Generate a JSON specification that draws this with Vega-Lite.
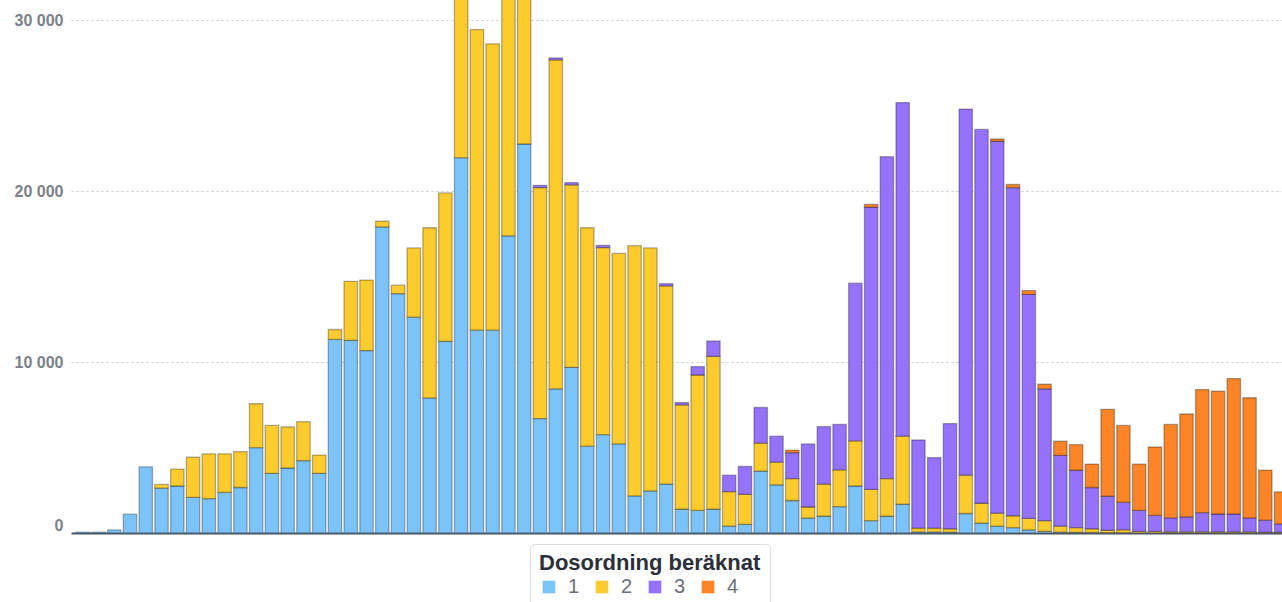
{
  "$schema": "https://vega.github.io/schema/vega-lite/v6.json",
  "width": 1211,
  "height": 533,
  "autosize": {"type": "none"},
  "padding": {"left": 71, "top": 0, "right": 0, "bottom": 69},
  "background": "white",
  "config": {"view": {"stroke": null}},
  "data": {
    "values": [
      {"n":1,"1":50,"2":0,"3":0,"4":0},
      {"n":2,"1":50,"2":0,"3":0,"4":0},
      {"n":3,"1":180,"2":0,"3":0,"4":0},
      {"n":4,"1":1100,"2":0,"3":0,"4":0},
      {"n":5,"1":3870,"2":0,"3":0,"4":0},
      {"n":6,"1":2620,"2":220,"3":0,"4":0},
      {"n":7,"1":2750,"2":990,"3":0,"4":0},
      {"n":8,"1":2080,"2":2350,"3":0,"4":0},
      {"n":9,"1":2010,"2":2620,"3":0,"4":0},
      {"n":10,"1":2370,"2":2260,"3":0,"4":0},
      {"n":11,"1":2660,"2":2100,"3":0,"4":0},
      {"n":12,"1":4990,"2":2570,"3":0,"4":0},
      {"n":13,"1":3490,"2":2800,"3":0,"4":0},
      {"n":14,"1":3800,"2":2400,"3":0,"4":0},
      {"n":15,"1":4230,"2":2280,"3":0,"4":0},
      {"n":16,"1":3490,"2":1070,"3":0,"4":0},
      {"n":17,"1":11320,"2":580,"3":0,"4":0},
      {"n":18,"1":11270,"2":3450,"3":0,"4":0},
      {"n":19,"1":10670,"2":4120,"3":0,"4":0},
      {"n":20,"1":17900,"2":330,"3":0,"4":0},
      {"n":21,"1":14000,"2":490,"3":0,"4":0},
      {"n":22,"1":12620,"2":4050,"3":0,"4":0},
      {"n":23,"1":7900,"2":9950,"3":0,"4":0},
      {"n":24,"1":11210,"2":8680,"3":0,"4":0},
      {"n":25,"1":21950,"2":10500,"3":0,"4":0},
      {"n":26,"1":11860,"2":17580,"3":0,"4":0},
      {"n":27,"1":11860,"2":16750,"3":0,"4":0},
      {"n":28,"1":17380,"2":14600,"3":0,"4":0},
      {"n":29,"1":22750,"2":9050,"3":0,"4":0},
      {"n":30,"1":6690,"2":13510,"3":130,"4":0},
      {"n":31,"1":8430,"2":19240,"3":110,"4":0},
      {"n":32,"1":9690,"2":10670,"3":130,"4":0},
      {"n":33,"1":5080,"2":12770,"3":0,"4":0},
      {"n":34,"1":5750,"2":10940,"3":130,"4":0},
      {"n":35,"1":5210,"2":11140,"3":0,"4":0},
      {"n":36,"1":2170,"2":14630,"3":0,"4":0},
      {"n":37,"1":2460,"2":14210,"3":0,"4":0},
      {"n":38,"1":2860,"2":11590,"3":130,"4":0},
      {"n":39,"1":1390,"2":6100,"3":140,"4":0},
      {"n":40,"1":1320,"2":7920,"3":490,"4":0},
      {"n":41,"1":1390,"2":8940,"3":900,"4":0},
      {"n":42,"1":400,"2":2020,"3":960,"4":0},
      {"n":43,"1":510,"2":1750,"3":1630,"4":0},
      {"n":44,"1":3620,"2":1640,"3":2080,"4":0},
      {"n":45,"1":2820,"2":1320,"3":1520,"4":0},
      {"n":46,"1":1900,"2":1280,"3":1520,"4":150},
      {"n":47,"1":870,"2":650,"3":3690,"4":0},
      {"n":48,"1":980,"2":1880,"3":3360,"4":0},
      {"n":49,"1":1540,"2":2150,"3":2660,"4":0},
      {"n":50,"1":2750,"2":2640,"3":9220,"4":0},
      {"n":51,"1":720,"2":1830,"3":16510,"4":160},
      {"n":52,"1":980,"2":2200,"3":18830,"4":0},
      {"n":53,"1":1680,"2":3980,"3":19510,"4":0},
      {"n":54,"1":60,"2":230,"3":5150,"4":0},
      {"n":55,"1":60,"2":230,"3":4120,"4":0},
      {"n":56,"1":50,"2":200,"3":6150,"4":0},
      {"n":57,"1":1140,"2":2240,"3":21410,"4":0},
      {"n":58,"1":580,"2":1160,"3":21860,"4":0},
      {"n":59,"1":400,"2":760,"3":21750,"4":130},
      {"n":60,"1":310,"2":700,"3":19190,"4":180},
      {"n":61,"1":180,"2":670,"3":13110,"4":220},
      {"n":62,"1":90,"2":630,"3":7710,"4":270},
      {"n":63,"1":50,"2":350,"3":4140,"4":830},
      {"n":64,"1":40,"2":270,"3":3360,"4":1500},
      {"n":65,"1":30,"2":220,"3":2410,"4":1370},
      {"n":66,"1":20,"2":140,"3":1990,"4":5080},
      {"n":67,"1":20,"2":160,"3":1610,"4":4500},
      {"n":68,"1":10,"2":80,"3":1230,"4":2710},
      {"n":69,"1":10,"2":80,"3":940,"4":4000},
      {"n":70,"1":10,"2":60,"3":820,"4":5460},
      {"n":71,"1":10,"2":60,"3":870,"4":6020},
      {"n":72,"1":10,"2":60,"3":1120,"4":7200},
      {"n":73,"1":10,"2":50,"3":1050,"4":7180},
      {"n":74,"1":10,"2":50,"3":1050,"4":7920},
      {"n":75,"1":10,"2":50,"3":820,"4":7030},
      {"n":76,"1":10,"2":40,"3":700,"4":2930},
      {"n":77,"1":10,"2":40,"3":480,"4":1880}
    ]
  },
  "transform": [
    {"fold": ["1", "2", "3", "4"], "as": ["dos", "antal"]},
    {"filter": "datum.antal > 0"}
  ],
  "mark": {"type": "bar", "size": 13.4, "stroke": "#000000", "strokeOpacity": 0.3, "strokeWidth": 1.3, "clip": true},
  "encoding": {
    "x": {
      "field": "n",
      "type": "quantitative",
      "scale": {"domain": [0.5755, 76.74], "nice": false, "zero": false},
      "axis": {"title": null, "labels": false, "ticks": false, "grid": false, "domainColor": "#4b5563", "domainWidth": 2}
    },
    "y": {
      "field": "antal",
      "type": "quantitative",
      "stack": "zero",
      "scale": {"domain": [0, 31170], "nice": false},
      "axis": {
        "title": null,
        "values": [0, 10000, 20000, 30000],
        "labelExpr": "replace(format(datum.value, ','), ',', ' ')",
        "labelFont": "Liberation Sans",
        "labelFontWeight": "bold",
        "labelFontSize": 16,
        "labelColor": "#7c8089",
        "labelPadding": 8,
        "labelBaseline": {"condition": {"test": "datum.value === 0", "value": "bottom"}, "value": "middle"},
        "ticks": false,
        "domain": false,
        "grid": true,
        "gridColor": "#c8c8c8",
        "gridDash": [2, 3],
        "gridWidth": 1
      }
    },
    "color": {
      "field": "dos",
      "type": "nominal",
      "scale": {"domain": ["1", "2", "3", "4"], "range": ["#7cc3fa", "#fecb2f", "#9472fc", "#fd8427"]},
      "legend": {
        "title": "Dosordning beräknat",
        "orient": "none",
        "legendX": 459,
        "legendY": 544,
        "direction": "horizontal",
        "titleFont": "Liberation Sans",
        "titleFontSize": 22,
        "titleFontWeight": "bold",
        "titleColor": "#2b2f3a",
        "titleLimit": 500,
        "titlePadding": 2,
        "labelFont": "Liberation Sans",
        "labelFontSize": 20,
        "labelColor": "#6b6f78",
        "labelOffset": 9,
        "columnPadding": 12,
        "symbolType": "square",
        "symbolSize": 160,
        "symbolStrokeWidth": 0,
        "strokeColor": "#dcdcdc",
        "fillColor": "#ffffff",
        "cornerRadius": 4,
        "padding": 9
      }
    },
    "order": {"field": "dos", "type": "ordinal"}
  }
}
